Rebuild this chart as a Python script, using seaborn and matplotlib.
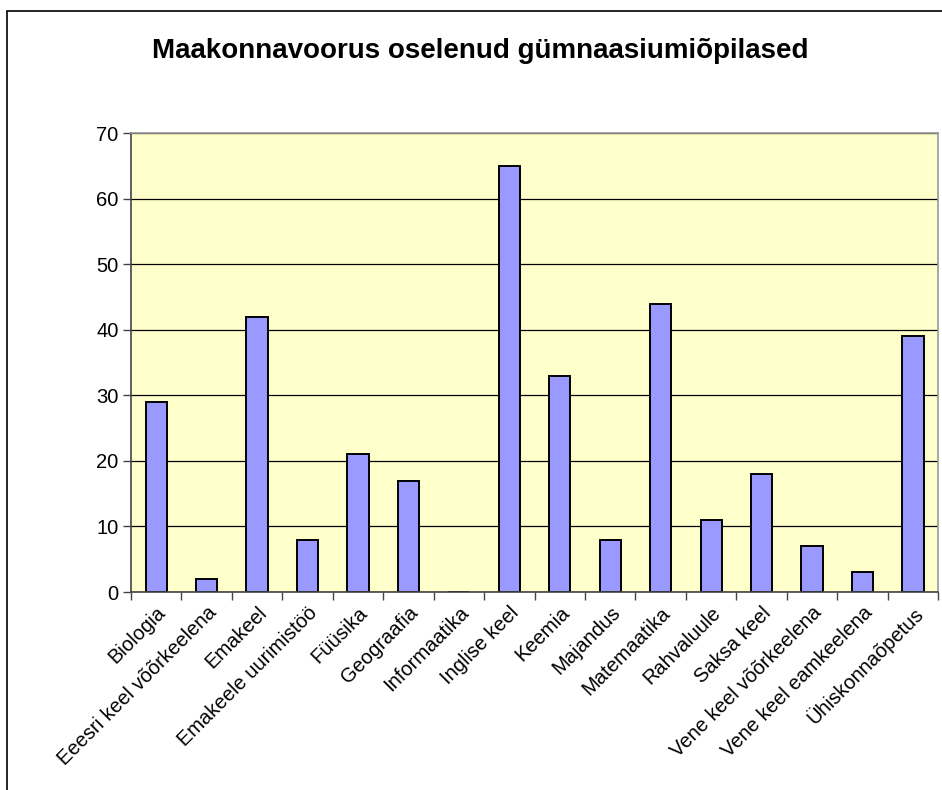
import numpy as np
import seaborn as sns
import matplotlib.pyplot as plt
from matplotlib.patches import Rectangle
from matplotlib.transforms import ScaledTranslation

subjects = [
    "Biologia", "Eeesri keel võõrkeelena", "Emakeel", "Emakeele uurimistöö",
    "Füüsika", "Geograafia", "Informaatika", "Inglise keel", "Keemia",
    "Majandus", "Matemaatika", "Rahvaluule", "Saksa keel",
    "Vene keel võõrkeelena", "Vene keel eamkeelena", "Ühiskonnaõpetus",
]
students = [29, 2, 42, 8, 21, 17, 0, 65, 33, 8, 44, 11, 18, 7, 3, 39]
y_ticks = [0, 10, 20, 30, 40, 50, 60, 70]

sns.set_theme(style="white")
plt.rcParams["font.family"] = ["Liberation Sans", "DejaVu Sans"]
plt.rcParams["text.color"] = "black"
plt.rcParams["xtick.labelcolor"] = "black"
plt.rcParams["ytick.labelcolor"] = "black"

fig = plt.figure(figsize=(9.42, 7.9), dpi=100)
ax = fig.add_axes([0.139, 0.2506, 0.857, 0.581])

sns.barplot(x=subjects, y=students, color="#9999FF", saturation=1,
            edgecolor="black", linewidth=1.4, width=0.42, ax=ax)

ax.set_facecolor("#FFFFCC")
ax.set_xlim(-0.5, len(subjects) - 0.5)
ax.set_ylim(0, 70)
ax.set_yticks(y_ticks)
ax.yaxis.grid(True, color="black", linewidth=0.9)
ax.set_axisbelow(True)

ax.set_xticks(np.arange(len(subjects)))
ax.set_xticklabels(subjects, rotation=45, ha="right", rotation_mode="anchor",
                   fontsize=14.5)
shift = ScaledTranslation(-6 / 100, 0, fig.dpi_scale_trans)
for lbl in ax.get_xticklabels():
    lbl.set_transform(lbl.get_transform() + shift)
ax.set_xticks(np.arange(len(subjects) + 1) - 0.5, minor=True)
ax.tick_params(axis="x", which="major", length=0, pad=8)
ax.tick_params(axis="x", which="minor", length=6, width=1, color="#444444",
               direction="out", bottom=True)
ax.tick_params(axis="y", length=6, width=1, color="#444444", direction="out",
               left=True, labelsize=14.5, pad=3)

for side in ["left", "bottom"]:
    ax.spines[side].set_color("#444444")
    ax.spines[side].set_linewidth(1.2)
for side in ["top", "right"]:
    ax.spines[side].set_color("#999999")
    ax.spines[side].set_linewidth(1.2)

fig.text(0.51, 0.935, "Maakonnavoorus oselenud gümnaasiumiõpilased",
         ha="center", va="center", fontsize=20, fontweight="bold")

fig.patches.append(Rectangle((7 / 942, -0.01), 1.0, 1 - 11 / 790 + 0.01,
                             transform=fig.transFigure, fill=False,
                             edgecolor="black", linewidth=1.2))

fig.savefig("out.png", dpi=100)
